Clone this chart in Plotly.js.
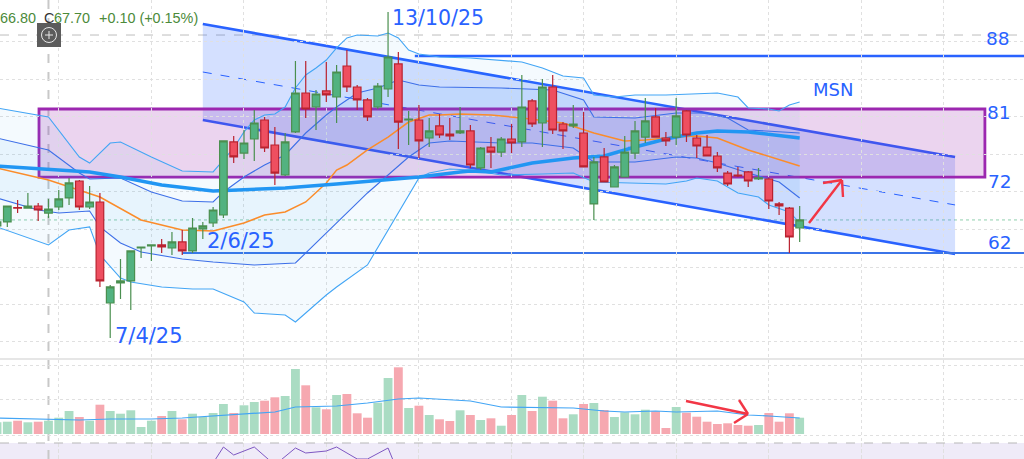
<!DOCTYPE html>
<html><head><meta charset="utf-8">
<script src="https://cdn.plot.ly/plotly-3.0.1.min.js"></script>
<style>html,body{margin:0;padding:0;background:#fff;overflow:hidden}#c{width:1024px;height:459px}</style>
</head><body><div id="c"></div>
<script>
// Weekly candles, oldest first (index 0 .. 78)
const open  = [65.57,66.10,68.00,67.93,68.20,67.27,68.07,69.26,71.50,68.07,68.73,55.40,58.04,58.31,62.66,62.92,63.06,62.66,63.46,62.27,65.17,65.96,67.01,76.65,75.19,77.04,79.55,76.25,72.29,77.97,83.11,81.26,83.38,82.58,86.67,83.90,82.19,81.26,83.64,86.94,79.55,79.55,77.17,78.76,77.70,77.83,78.10,73.22,75.98,75.32,77.04,76.65,82.06,79.15,83.90,79.02,78.76,77.83,68.47,74.67,70.71,72.03,75.19,77.30,79.95,77.17,77.30,80.74,77.17,75.98,74.80,72.55,72.29,72.69,71.76,71.76,68.47,67.93,65.30];
const high  = [66.61,68.20,68.99,69.91,68.60,69.13,70.31,71.90,71.63,70.84,69.91,57.78,61.21,62.27,62.79,63.06,63.85,64.77,65.04,66.62,66.10,68.07,76.78,77.44,78.23,80.87,79.95,78.63,77.83,87.33,87.33,83.51,87.20,86.80,88.78,84.17,82.45,84.43,93.80,88.52,80.74,81.53,79.81,80.34,79.81,81.26,78.89,75.98,77.30,77.30,79.02,85.49,82.32,84.96,85.49,79.28,81.53,80.60,74.67,75.85,73.61,77.44,79.42,82.45,81.13,77.97,82.45,80.87,77.57,77.57,75.32,72.82,73.35,72.82,73.22,71.90,68.73,68.07,68.20];
const low   = [65.30,65.44,67.27,67.93,66.22,66.62,67.67,68.34,67.67,67.80,57.52,50.78,55.93,54.48,61.35,60.95,62.00,61.74,61.74,62.00,63.85,65.44,66.62,73.87,74.40,74.14,75.32,70.97,72.16,77.83,79.81,78.23,81.92,79.15,83.24,80.87,79.42,81.00,82.58,75.72,76.25,74.54,75.98,77.17,76.91,77.70,73.22,72.95,73.22,74.67,75.19,75.98,78.63,75.98,77.70,75.72,78.50,73.35,66.36,71.37,70.71,72.03,74.40,76.51,77.30,76.12,76.25,76.65,74.54,74.80,72.69,70.84,72.03,70.71,71.63,67.80,67.01,62.00,63.46];
const close = [66.10,68.20,67.93,68.20,67.67,67.80,69.13,71.24,68.07,68.73,58.31,57.52,58.31,62.27,62.79,63.06,62.79,63.46,62.27,65.30,65.57,67.67,76.78,74.67,76.51,79.15,75.85,72.55,76.65,83.11,81.00,82.98,82.85,85.88,83.90,82.19,79.95,84.03,87.86,79.28,79.68,76.78,78.10,77.57,77.44,78.10,73.61,75.85,75.32,77.04,76.51,81.26,79.02,83.90,78.23,78.10,79.02,73.35,74.01,71.37,73.35,75.32,78.10,79.42,77.30,76.78,80.08,77.57,76.12,74.80,73.22,71.10,72.16,71.50,71.90,68.86,68.20,64.11,66.36];
const volume = [1.17,1.23,1.33,1.17,1.23,1.33,1.63,2.30,1.70,1.33,2.93,2.30,2.03,2.37,0.70,1.33,1.80,2.30,1.47,2.03,1.70,2.10,3.00,2.10,2.87,3.20,3.33,3.67,3.80,6.50,4.87,2.67,2.47,3.90,4.00,2.07,1.63,3.13,5.60,6.67,2.60,2.83,1.90,1.47,1.30,2.37,1.90,1.40,1.57,0.83,1.90,3.90,2.30,3.73,3.33,1.57,1.97,3.00,3.10,2.40,1.70,2.17,1.97,2.43,2.27,0.60,2.70,2.13,1.73,1.23,1.00,1.07,0.90,0.83,0.90,2.10,1.23,2.07,1.63];

// Indicator lines: [candle index], [value]
const bbUpperIdx = [0,5,8,9,11,12,15,18,21,22,23,24,25,26,27,28,29,30,31,32,33,34,35,37,38,39,40,41,43,46,49,51,53,55,57,58,60,62,65,67,70,72,73,75,76,77,78];
const bbUpper    = [81.13,79.95,74.67,73.87,76.51,76.65,74.67,72.82,72.69,74.27,75.85,77.97,79.55,80.21,80.34,81.26,83.77,85.49,86.41,87.46,89.05,90.37,90.76,90.63,91.02,90.37,88.78,88.26,87.86,87.73,87.46,87.20,86.41,85.35,85.09,82.85,82.58,82.85,82.85,82.98,83.11,82.58,81.13,81.00,80.74,81.53,81.92];
const bbLowerIdx = [0,5,7,9,10,12,13,16,19,21,24,25,28,29,32,33,36,38,41,42,44,46,49,53,56,58,62,65,67,68,70,72,74,75,77,78];
const bbLower    = [65.44,63.06,65.04,65.44,61.74,58.70,58.18,57.52,57.25,57.25,55.54,54.08,53.82,52.90,56.46,57.52,60.42,65.04,71.90,72.55,73.08,72.95,72.29,72.42,72.55,71.37,71.24,71.10,71.50,71.90,71.50,69.92,69.39,68.34,67.41,65.96];
const innerUpperIdx = [0,5,8,9,12,15,18,21,22,24,26,28,30,32,33,35,37,39,41,43,49,54,57,58,62,66,69,71,73,78];
const innerUpper    = [77.17,75.59,72.55,71.76,71.90,70.05,68.86,68.73,70.05,72.03,73.61,74.93,77.83,80.21,81.26,83.11,83.77,84.83,84.17,83.90,83.77,83.51,82.19,79.95,79.81,80.47,80.47,79.81,78.23,77.83];
const innerLowerIdx = [0,4,6,9,10,12,14,18,21,25,29,30,33,36,40,42,44,49,52,56,58,62,66,68,70,73,76,78];
const innerLower    = [69.26,67.67,67.28,67.54,65.44,63.32,62.13,61.21,60.82,60.42,60.68,62.00,66.09,69.92,74.67,76.51,76.78,76.51,76.51,75.85,74.01,74.01,74.67,74.54,73.87,72.55,71.37,69.26];
const maFastIdx = [0,5,10,14,18,21,24,26,28,30,32,33,34,36,38,40,42,43,45,48,51,55,58,61,63,66,68,70,73,76,78];
const maFast    = [73.22,71.63,69.39,66.36,65.04,64.90,65.96,67.01,67.41,68.73,71.24,72.95,73.61,75.59,77.30,79.28,80.21,80.21,80.34,80.21,79.81,79.15,77.83,76.78,76.91,77.30,77.44,77.17,75.59,74.27,73.48];
const maSlowIdx = [0,5,9,12,16,21,23,28,33,38,41,45,46,48,52,56,59,62,65,68,70,73,78];
const maSlow    = [73.48,73.08,72.69,72.03,70.97,70.18,70.31,70.58,71.10,71.63,72.03,72.69,72.82,72.69,73.87,74.54,74.80,75.98,77.04,77.83,78.10,77.97,77.17];
const volMaIdx = [0,8,11,15,18,22,27,29,33,36,39,41,46,49,56,59,61,64,66,70,73,75,78];
const volMa    = [1.6,1.4,1.5,1.5,1.6,1.9,2.2,2.7,2.8,3.1,3.5,3.6,3.3,2.7,2.6,2.3,2.2,2.3,2.2,2.3,1.9,1.8,1.6];
const rsiIdx = [21,22,23,25,27,29,30,32,33,35,36,38,39];
const rsi    = [50,66,58,66,48,65,60,62,66,54,54,65,40];

// Drawn levels and channel
const channelX = [20,93.1];
const channelTop = [92.21,74.67];
const channelMid = [85.88,68.34];
const channelBottom = [79.55,61.87];
const zoneTop = 81, zoneBottom = 72, resistance = 88, support = 62;
const lastPrice = 66.36, highPriceLine = 90.76;
const priceGrid = [89.84,84.9,79.95,75.0,70.05,65.1,60.15,55.2,50.3];
const timeGrid = [6,15,24,32,41,50,57,66,75,84,92];
const volGrid = [-0.1,3.5,6.9];

const W=1024,H=459, BLUE='#2962ff';
const fx=x=>x/W, fy=y=>1-y/H;
const idx=open.map((_,i)=>i);
const volColors=open.map((o,i)=>close[i]>=o?'#aadcc3':'#f6a8b0');
const ln=(x,y,c,w,extra)=>Object.assign({type:'scatter',mode:'lines',x,y,line:{color:c,width:w},hoverinfo:'skip',xaxis:'x',yaxis:'y'},extra||{});

const traces=[
 ln(bbLowerIdx,bbLower,'#42a5f5',1.1),
 ln(bbUpperIdx,bbUpper,'#42a5f5',1.1,{fill:'tonexty',fillcolor:'rgba(33,150,243,0.05)'}),
 ln(innerLowerIdx,innerLower,'#3d6fe8',1.1),
 ln(innerUpperIdx,innerUpper,'#3d6fe8',1.1,{fill:'tonexty',fillcolor:'rgba(33,150,243,0.06)'}),
 ln(maFastIdx,maFast,'#fb8c2a',1.5),
 ln(maSlowIdx,maSlow,'#2196f3',3.5),
 {type:'candlestick',x:idx,open,high,low,close,xaxis:'x2',yaxis:'y2',whiskerwidth:0,hoverinfo:'skip',
  increasing:{line:{color:'#4a8f4f',width:1.2},fillcolor:'#52b280'},
  decreasing:{line:{color:'#b9222f',width:1.2},fillcolor:'#ee4f60'}},
 {type:'bar',x:idx,y:volume,marker:{color:volColors},width:0.86,xaxis:'x',yaxis:'y3',hoverinfo:'skip'},
 ln(volMaIdx,volMa,'#42a5f5',1.2,{yaxis:'y3'}),
 ln(rsiIdx,rsi,'#7e57c2',1,{yaxis:'y4'})
];

const paperLine=(x0,y0,x1,y1,c,w,d)=>({type:'line',xref:'paper',yref:'paper',x0:fx(x0),x1:fx(x1),y0:fy(y0),y1:fy(y1),line:{color:c,width:w,dash:d||'solid'},layer:'above'});
const channelPath=`M ${channelX[0]},${channelTop[0]} L ${channelX[1]},${channelTop[1]} L ${channelX[1]},${channelBottom[1]} L ${channelX[0]},${channelBottom[0]} Z`;
const shapes=[
 {type:'rect',xref:'paper',yref:'paper',x0:0,x1:1,y0:0,y1:fy(443),fillcolor:'#efebf8',line:{width:0},layer:'below'},
 paperLine(0,359,W,359,'#e6e6e6',2),
 paperLine(0,443,W,443,'#b8b8b8',1.2,'dash'),
 {type:'line',xref:'paper',yref:'y',x0:0,x1:1,y0:highPriceLine,y1:highPriceLine,line:{color:'#bdbdbd',width:1,dash:'dash'},layer:'below'},
 {type:'line',xref:'paper',yref:'y',x0:0,x1:1,y0:lastPrice,y1:lastPrice,line:{color:'#8fcfae',width:1,dash:'dot'},layer:'below'},
 {type:'line',xref:'x',yref:'paper',x0:5,x1:5,y0:0,y1:1,line:{color:'#c8c8c8',width:2,dash:'dash'},layer:'below'},
 {type:'path',xref:'x',yref:'y',path:channelPath,fillcolor:'rgba(41,98,255,0.2)',line:{width:0},layer:'below'},
 {type:'line',xref:'x',yref:'y',x0:channelX[0],x1:channelX[1],y0:channelTop[0],y1:channelTop[1],line:{color:BLUE,width:2.6},layer:'below'},
 {type:'line',xref:'x',yref:'y',x0:channelX[0],x1:channelX[1],y0:channelBottom[0],y1:channelBottom[1],line:{color:BLUE,width:2.6},layer:'below'},
 {type:'line',xref:'x',yref:'y',x0:channelX[0],x1:channelX[1],y0:channelMid[0],y1:channelMid[1],line:{color:BLUE,width:1,dash:'dash'},layer:'below'},
 {type:'rect',xref:'x',yref:'y',x0:4.08,x1:96,y0:zoneBottom,y1:zoneTop,fillcolor:'rgba(156,39,176,0.2)',line:{color:'#9c27b0',width:2.8},layer:'below'},
 {type:'line',xref:'x',yref:'y',x0:40.6,x1:101,y0:resistance,y1:resistance,line:{color:BLUE,width:2.4},layer:'below'},
 {type:'line',xref:'x',yref:'y',x0:18,x1:101,y0:support,y1:support,line:{color:'#3b74e8',width:1.8},layer:'below'},
 paperLine(809,223,842,180,'#f23645',2.4),
 paperLine(823,183,842,180,'#f23645',2.4),
 paperLine(843,197,842,180,'#f23645',2.4),
 paperLine(686,401,748,414,'#f23645',2.4),
 paperLine(739,400,748,414,'#f23645',2.4),
 paperLine(734,423,748,414,'#f23645',2.4),
 {type:'rect',xref:'paper',yref:'paper',x0:fx(37),x1:fx(61),y0:fy(47),y1:fy(23),fillcolor:'#5c5c5c',line:{width:0},layer:'above'},
 {type:'circle',xref:'paper',yref:'paper',x0:fx(41.5),x1:fx(56.5),y0:fy(42.5),y1:fy(27.5),line:{color:'#e8e8e8',width:1},layer:'above'},
 paperLine(45,35,53,35,'#e8e8e8',1),
 paperLine(49,31,49,39,'#e8e8e8',1)
];
const ann=(text,x,y,size,color,family,anchor)=>({text,xref:'paper',yref:'paper',x:fx(x),y:fy(y),xanchor:anchor||'left',yanchor:'middle',showarrow:false,font:{size,color,family:family||'DejaVu Sans'}});
const hf='Liberation Sans';
const annotations=[
 ann('66.80',-2,18,14.4,'#4c8a3a',hf),
 ann('C',42,18,14.4,'#333',hf),
 ann('67.70',52,18,14.4,'#4c8a3a',hf),
 ann('+0.10 (+0.15%)',97,18,14.4,'#4c8a3a',hf),
 ann('13/10/25',390,18,20.5,BLUE),
 ann('2/6/25',205,241,21,BLUE),
 ann('7/4/25',113,336,21,BLUE),
 ann('MSN',811,90,18,BLUE),
 ann('88',984,38,18.5,BLUE),
 ann('81',985,113,18.5,BLUE),
 ann('72',986,181,18.5,BLUE),
 ann('62',986,242,18.5,BLUE)
];
const hiddenX={range:[0.29,99.8],showline:false,zeroline:false,showticklabels:false,ticks:''};
const priceY={range:[34.82,95.38],domain:[0,1],showline:false,zeroline:false,showticklabels:false,ticks:''};
const gridC='#e0e0e0';
const layout={
 width:W,height:H,margin:{l:0,r:0,t:0,b:0},paper_bgcolor:'#fff',plot_bgcolor:'rgba(0,0,0,0)',showlegend:false,dragmode:false,hovermode:false,
 boxgap:0.26,boxgroupgap:0,candlestickgap:0.26,candlestickgroupgap:0,
 xaxis:Object.assign({},hiddenX,{tickmode:'array',tickvals:timeGrid,showgrid:true,gridcolor:gridC,griddash:'dot',gridwidth:1}),
 xaxis2:Object.assign({},hiddenX,{overlaying:'x',rangeslider:{visible:false},showgrid:false}),
 yaxis:Object.assign({},priceY,{tickmode:'array',tickvals:priceGrid,showgrid:true,gridcolor:gridC,griddash:'dot',gridwidth:1}),
 yaxis2:Object.assign({},priceY,{overlaying:'y',showgrid:false}),
 yaxis3:{range:[-2.5,43.4],domain:[0,1],overlaying:'y',zeroline:false,showticklabels:false,ticks:'',tickmode:'array',tickvals:volGrid,showgrid:true,gridcolor:gridC,griddash:'dot'},
 yaxis4:{range:[54,70],domain:[0,16/H],zeroline:false,showticklabels:false,ticks:'',showgrid:false},
 shapes,annotations
};
Plotly.newPlot('c',traces,layout,{staticPlot:true,displayModeBar:false});
</script></body></html>
